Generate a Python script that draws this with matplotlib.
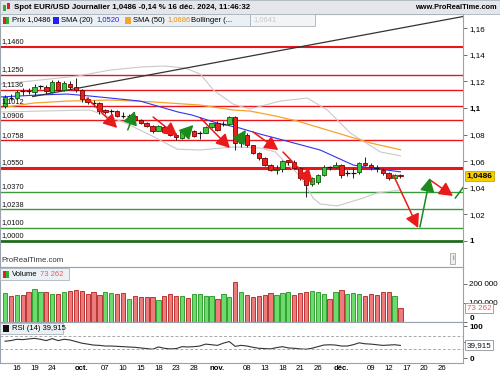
import matplotlib
matplotlib.use("Agg")
import matplotlib.pyplot as plt
import matplotlib.transforms as mtrans
from matplotlib.patches import Rectangle
import numpy as np

plt.rcParams['font.family'] = ['Liberation Sans', 'DejaVu Sans']

# ---- daily candles, 12 Sep -> 16 Dec 2024 (trading-day index) ----
opens = [1.1012, 1.1080, 1.1077, 1.1128, 1.1131, 1.1123, 1.1160, 1.1158, 1.1123, 1.1198,
         1.1135, 1.1180, 1.1160, 1.1135, 1.1067, 1.1045, 1.1037, 1.0985, 1.0972, 1.0975,
         1.0942, 1.0937, 1.0940, 1.0912, 1.0890, 1.0865, 1.0830, 1.0860, 1.0820, 1.0800,
         1.0778, 1.0812, 1.0825, 1.0808, 1.0815, 1.0857, 1.0887, 1.0878, 1.0880, 1.0932,
         1.0733, 1.0800, 1.0720, 1.0660, 1.0625, 1.0570, 1.0530, 1.0540, 1.0606, 1.0597,
         1.0545, 1.0473, 1.0425, 1.0445, 1.0496, 1.0556, 1.0555, 1.0571, 1.0505, 1.0512,
         1.0515, 1.0586, 1.0568, 1.0555, 1.0535, 1.0510, 1.0470, 1.0499]
highs = [1.1098, 1.1102, 1.1135, 1.1148, 1.1152, 1.1180, 1.1175, 1.1170, 1.1214, 1.1214,
         1.1202, 1.1200, 1.1225, 1.1145, 1.1085, 1.1060, 1.1045, 1.0990, 1.0990, 1.0985,
         1.0970, 1.0955, 1.0945, 1.0920, 1.0895, 1.0875, 1.0870, 1.0870, 1.0825, 1.0810,
         1.0835, 1.0840, 1.0835, 1.0830, 1.0865, 1.0890, 1.0905, 1.0905, 1.0937, 1.0937,
         1.0810, 1.0810, 1.0725, 1.0668, 1.0630, 1.0580, 1.0568, 1.0608, 1.0610, 1.0610,
         1.0555, 1.0480, 1.0480, 1.0500, 1.0570, 1.0565, 1.0595, 1.0580, 1.0530, 1.0545,
         1.0595, 1.0630, 1.0590, 1.0570, 1.0545, 1.0520, 1.0505, 1.0500]
lows = [1.1000, 1.1058, 1.1070, 1.1100, 1.1105, 1.1095, 1.1140, 1.1105, 1.1115, 1.1125,
        1.1128, 1.1145, 1.1120, 1.1045, 1.1030, 1.1005, 1.0952, 1.0955, 1.0957, 1.0935,
        1.0925, 1.0920, 1.0905, 1.0880, 1.0855, 1.0815, 1.0825, 1.0810, 1.0790, 1.0761,
        1.0770, 1.0800, 1.0785, 1.0770, 1.0810, 1.0850, 1.0830, 1.0862, 1.0870, 1.0683,
        1.0710, 1.0705, 1.0655, 1.0610, 1.0560, 1.0525, 1.0500, 1.0520, 1.0570, 1.0540,
        1.0460, 1.0332, 1.0410, 1.0425, 1.0485, 1.0535, 1.0545, 1.0470, 1.0490, 1.0475,
        1.0500, 1.0560, 1.0535, 1.0520, 1.0495, 1.0455, 1.0465, 1.0475]
closes = [1.1085, 1.1076, 1.1122, 1.1131, 1.1127, 1.1160, 1.1163, 1.1125, 1.1195, 1.1135,
          1.1188, 1.1160, 1.1135, 1.1067, 1.1045, 1.1040, 1.0976, 1.0968, 1.0975, 1.0942,
          1.0937, 1.0940, 1.0912, 1.0890, 1.0862, 1.0830, 1.0865, 1.0820, 1.0800, 1.0780,
          1.0825, 1.0826, 1.0792, 1.0812, 1.0857, 1.0885, 1.0834, 1.0882, 1.0935, 1.0733,
          1.0805, 1.0718, 1.0660, 1.0625, 1.0570, 1.0530, 1.0541, 1.0598, 1.0594, 1.0545,
          1.0473, 1.0420, 1.0470, 1.0496, 1.0556, 1.0553, 1.0572, 1.0498, 1.0512, 1.0510,
          1.0586, 1.0570, 1.0556, 1.0548, 1.0510, 1.0470, 1.0499, 1.0486]

# volume (thousands) and bar colour, G = up, R = down
volumes = [151, 137, 142, 142, 156, 172, 156, 156, 147, 147,
           156, 165, 168, 163, 147, 156, 142, 156, 151, 147,
           151, 119, 137, 130, 130, 130, 116, 137, 147, 137,
           137, 125, 147, 147, 137, 137, 119, 147, 130, 212,
           156, 142, 130, 137, 142, 150, 142, 151, 156, 142,
           151, 156, 165, 156, 147, 121, 156, 168, 147, 151,
           147, 137, 147, 142, 156, 156, 139, 73.262]
vol_dir = "GRGRRGGRGRGRRRRRRGGRRGRRRRGRRRGRGGGGRGGRGRRRRRGGGRRRGGGRGRGGGRRRRRGR"

rsi = [53, 55, 59, 58, 60, 62, 59, 55, 61, 55, 59, 57, 52, 47, 44, 41, 40, 38, 38, 37,
       36, 35, 34, 32, 30, 28, 35, 31, 29, 30, 36, 35, 36, 38, 44, 42, 40, 47, 52, 37,
       40, 38, 34, 31, 30, 29, 33, 36, 32, 31, 29, 28, 31, 36, 41, 42, 41, 38, 38, 42,
       48, 45, 44, 42, 40, 41, 42, 39.915]

# indicator lines: (index, price)
sma20_x = [-0.85, 5.9, 10.5, 14.4, 17.8, 22.9, 29.3, 31.7, 35.9, 39.8, 43.2, 45.8, 53.4, 59, 61.9, 67]
sma20_y = [1.1083, 1.1098, 1.1105, 1.1090, 1.1075, 1.1052, 1.0970, 1.0947, 1.0887, 1.0849,
           1.0804, 1.0774, 1.0684, 1.0571, 1.0549, 1.0520]
sma50_x = [-0.85, 4.75, 10.5, 17.8, 24.6, 33.1, 38.6, 41.5, 45.8, 49.5, 56.3, 61.9, 67]
sma50_y = [1.1000, 1.1037, 1.1052, 1.1060, 1.1047, 1.1022, 1.0985, 1.0977, 1.0940, 1.0902,
           1.0812, 1.0737, 1.0686]
boll_up_x = [-0.85, 5.9, 12.2, 17.8, 22.9, 27.1, 30.5, 33.1, 35.3, 38.6, 41.5, 46.6, 51.2,
             54.6, 58.5, 63.6, 67]
boll_up_y = [1.1180, 1.1210, 1.1240, 1.1285, 1.1308, 1.1316, 1.1301, 1.1255, 1.1135, 1.1030,
             1.0992, 1.1052, 1.1075, 1.0985, 1.0812, 1.0669, 1.0641]
boll_lo_x = [-0.85, 14.4, 20.0, 24.6, 29.2, 33.1, 38.6, 43.2, 45.8, 47.1, 50.0, 52.2, 53.4,
             56.3, 60.7, 63.0, 67]
boll_lo_y = [1.0970, 1.0985, 1.0895, 1.0797, 1.0690, 1.0684, 1.0707, 1.0699, 1.0669, 1.0609,
             1.0489, 1.0323, 1.0278, 1.0263, 1.0323, 1.0361, 1.0383]

trend_x = [4.7, 77.6]
trend_y = [1.1086, 1.1688]

res_levels = [1.1460, 1.1250, 1.1136, 1.1012, 1.0906, 1.0758, 1.0550]
sup_levels = [1.0370, 1.0238, 1.0100, 1.0000]

red_arrows = [((13.9, 1.1075), (19.0, 1.0850)), ((25.1, 1.0932), (29.2, 1.0789)),
              ((33.1, 1.0925), (38.1, 1.0699)), ((42.0, 1.0820), (46.3, 1.0684)),
              ((47.1, 1.0669), (52.2, 1.0436)), ((65.8, 1.0496), (70.0, 1.0098)),
              ((72.0, 1.0459), (75.9, 1.0338))]
green_arrows = [((20.8, 1.0835), (22.0, 1.0977)), ((30.8, 1.0820), (31.9, 1.0872)),
                ((39.5, 1.0744), (40.8, 1.0835)), ((70.3, 1.0105), (72.0, 1.0474))]
green_line = ((76.3, 1.0323), (78.4, 1.0450))

tick_pos = [2, 5, 8, 13, 17, 20, 23, 26, 29, 32, 36, 41, 44, 47, 50, 53, 57, 62, 65, 68, 71, 74]
tick_lbl = ["16", "19", "24", "oct.", "07", "10", "15", "18", "23", "28", "nov.", "08", "13",
            "18", "21", "26", "déc.", "09", "12", "17", "20", "26"]

W, H = 500, 375
def fx(px):
    return px / W
def fy(py):
    return 1 - py / H

fig = plt.figure(figsize=(5, 3.75), dpi=100)
xr = (-0.85, 77.6)
ax = fig.add_axes([0, fy(267), fx(463), fy(14) - fy(267)])
axv = fig.add_axes([0, fy(322), fx(463), fy(267) - fy(322)], sharex=ax)
axr = fig.add_axes([0, fy(363), fx(463), fy(322) - fy(363)], sharex=ax)

edge = '#9aa3ab'
for a in (ax, axv, axr):
    a.set_xlim(*xr)
    for s in a.spines.values():
        s.set_color(edge)
        s.set_linewidth(0.8)
    a.yaxis.tick_right()
    a.tick_params(axis='y', direction='out', length=3, width=0.6, color='#555555',
                  labelsize=5.8, pad=1.5)
    a.tick_params(axis='x', length=0, labelbottom=False)

idx = np.arange(len(closes))
o, h, l, c = map(np.array, (opens, highs, lows, closes))

# ---- price panel ----
ax.set_ylim(0.9804, 1.1707)
ylab_tr = mtrans.blended_transform_factory(ax.transAxes, ax.transData)
for lv in res_levels:
    lw = 2.2 if lv == 1.0550 else (1.5 if lv == 1.1460 else 1.0)
    ax.axhline(lv, color='#e8151b', lw=lw, zorder=1)
for lv in sup_levels:
    if lv == 1.0:
        ax.axhline(lv, color='#1f6b1f', lw=2.0, zorder=1)
    else:
        ax.axhline(lv, color='#3a9a3a', lw=1.0, zorder=1)
for lv in res_levels + sup_levels:
    ax.text(0.004, lv + 0.0012, f"{lv:.4f}".replace('.', ','), transform=ylab_tr,
            fontsize=5.3, va='bottom', ha='left', color='#111111', zorder=6)

ax.plot(boll_up_x, boll_up_y, color='#c9c9c9', lw=0.8, zorder=2)
ax.plot(boll_lo_x, boll_lo_y, color='#c9c9c9', lw=0.8, zorder=2)
ax.plot(sma50_x, sma50_y, color='#f6a42a', lw=0.9, zorder=2)
ax.plot(sma20_x, sma20_y, color='#3333ee', lw=0.8, zorder=2)
ax.plot(trend_x, trend_y, color='#333333', lw=0.9, zorder=2)

# candles
ax.vlines(idx, l, h, color='#222222', lw=0.7, zorder=3)
doji = np.abs(c - o) < 0.0008
up = (c >= o) & ~doji
dn = (c < o) & ~doji
ax.bar(idx[up], (c - o)[up], bottom=o[up], width=0.75, color='#3dc43d',
       edgecolor='#0b5e0b', lw=0.6, zorder=4)
ax.bar(idx[dn], (o - c)[dn], bottom=c[dn], width=0.75, color='#e8231e',
       edgecolor='#7a0000', lw=0.6, zorder=4)
ax.hlines(c[doji], idx[doji] - 0.4, idx[doji] + 0.4, color='#111111', lw=0.9, zorder=4)

arrow_style = '-|>,head_length=0.75,head_width=0.4'
for (x0, y0), (x1, y1) in red_arrows:
    ax.annotate('', xy=(x1, y1), xytext=(x0, y0),
                arrowprops=dict(arrowstyle=arrow_style, color='#ea1a1a', lw=1.1,
                                shrinkA=0, shrinkB=0, mutation_scale=11), zorder=5)
for (x0, y0), (x1, y1) in green_arrows:
    ax.annotate('', xy=(x1, y1), xytext=(x0, y0),
                arrowprops=dict(arrowstyle=arrow_style, color='#1c8a1c', lw=1.1,
                                shrinkA=0, shrinkB=0, mutation_scale=11), zorder=5)
ax.plot([green_line[0][0], green_line[1][0]], [green_line[0][1], green_line[1][1]],
        color='#1c8a1c', lw=1.1, zorder=5, clip_on=True)

yt = [1.0, 1.02, 1.04, 1.06, 1.08, 1.1, 1.12, 1.14, 1.16]
ax.set_yticks(yt)
ax.set_yticklabels(["1", "1,02", "1,04", "1,06", "1,08", "1,1", "1,12", "1,14", "1,16"])
for t in ax.get_yticklabels():
    if t.get_text() in ("1", "1,1"):
        t.set_fontweight('bold')
ax.text(1.008, closes[-1], "1,0486", transform=ylab_tr, fontsize=6, fontweight='bold',
        va='center', ha='left', zorder=7, clip_on=False,
        bbox=dict(boxstyle='square,pad=0.18', fc='#f6cf00', ec='#c9a600', lw=0.6))
ax.text(0.004, 0.012, "ProRealTime.com", transform=ax.transAxes, fontsize=5.6,
        color='#333333', va='bottom')
ax.text(0.978, 0.02, "i", transform=ax.transAxes, fontsize=5, color='#666666',
        ha='center', va='bottom',
        bbox=dict(boxstyle='square,pad=0.25', fc='#eeeeee', ec='#999999', lw=0.5))

# ---- volume panel ----
vol = np.array(volumes) * 1000
vcol = ['#6bdc6b' if d == 'G' else '#ec7b7b' for d in vol_dir]
vedge = ['#1f951f' if d == 'G' else '#b32020' for d in vol_dir]
axv.bar(idx, vol, width=0.72, color=vcol, edgecolor=vedge, lw=0.6)
axv.set_ylim(0, 289000)
axv.set_yticks([0, 100000, 200000])
axv.set_yticklabels(["0", "100 000", "200 000"])
zero_lbl = axv.get_yticklabels()[0]
zero_lbl.set_fontweight('bold')
zero_lbl.set_va('bottom')
vtr = mtrans.blended_transform_factory(axv.transAxes, axv.transData)
axv.text(1.008, vol[-1], "73 262", transform=vtr, fontsize=5.8, color='#e06060',
         va='center', ha='left', zorder=7, clip_on=False,
         bbox=dict(boxstyle='square,pad=0.18', fc='white', ec='#8a9299', lw=0.6))

# ---- RSI panel ----
axr.plot(idx, rsi, color='#333333', lw=0.8)
for lv in (70, 30):
    axr.axhline(lv, color='#aaaaaa', lw=0.7, ls=(0, (3, 2)))
axr.set_ylim(-15, 113)
axr.set_yticks([0, 50, 100])
axr.set_yticklabels(["0", "50", "100"])
for t in axr.get_yticklabels():
    if t.get_text() in ("0", "100"):
        t.set_fontweight('bold')
rtr = mtrans.blended_transform_factory(axr.transAxes, axr.transData)
axr.text(1.008, rsi[-1], "39,915", transform=rtr, fontsize=5.8, color='#111111',
         va='center', ha='left', zorder=7, clip_on=False,
         bbox=dict(boxstyle='square,pad=0.18', fc='white', ec='#8a9299', lw=0.6))

axr.set_xticks(tick_pos)
axr.set_xticklabels(tick_lbl)
axr.tick_params(axis='x', labelbottom=True, labelsize=5.6, pad=1.5, length=0)
for t in axr.get_xticklabels():
    if t.get_text().endswith('.'):
        t.set_fontweight('bold')

# ---- header and legend boxes ----
fig.patches.append(Rectangle((0, fy(14)), 1, fy(0) - fy(14), transform=fig.transFigure,
                             fc='#e3e7eb', ec='#aab2ba', lw=0.6, zorder=0))
fig.patches.append(Rectangle((fx(3), fy(11)), fx(3), fy(5) - fy(11), transform=fig.transFigure,
                             fc='#2fb02f', ec='none'))
fig.patches.append(Rectangle((fx(7), fy(9)), fx(3), fy(3) - fy(9), transform=fig.transFigure,
                             fc='#e02020', ec='none'))
fig.text(fx(14), fy(7.5), "Spot EUR/USD Journalier 1,0486 -0,14 % 16 déc. 2024, 11:46:32",
         fontsize=5.7, fontweight='bold', va='center', ha='left')
fig.text(fx(497), fy(7.5), "www.ProRealTime.com", fontsize=5.3, fontweight='bold',
         va='center', ha='right')

def legend_box(x0, x1, y0, y1, fc='#ebf0f5'):
    fig.patches.append(Rectangle((fx(x0), fy(y1)), fx(x1 - x0), fy(y0) - fy(y1),
                                 transform=fig.transFigure, fc=fc, ec='#aab3bb', lw=0.6,
                                 zorder=5))

def swatch(x, y, col, col2=None):
    fig.patches.append(Rectangle((fx(x), fy(y + 3.5)), fx(6), fy(y - 3.5) - fy(y + 3.5),
                                 transform=fig.transFigure, fc=col, ec='none', zorder=6))
    if col2:
        fig.patches.append(Rectangle((fx(x + 3), fy(y + 3.5)), fx(3), fy(y - 3.5) - fy(y + 3.5),
                                     transform=fig.transFigure, fc=col2, ec='none', zorder=6))

lt = dict(fontsize=5.5, va='center', ha='left', zorder=7)
legend_box(250, 315, 14, 26, fc='#f2f4f6')
legend_box(0, 250, 14, 26)
yl = 20
swatch(3, yl, '#e02020', '#2fb02f')
fig.text(fx(12), fy(yl), "Prix 1,0486", **lt)
swatch(53, yl, '#2222ee')
fig.text(fx(61), fy(yl), "SMA (20)", **lt)
fig.text(fx(96), fy(yl), "1,0520", color='#2222ee', **lt)
swatch(125, yl, '#f6a42a')
fig.text(fx(133), fy(yl), "SMA (50)", **lt)
fig.text(fx(167), fy(yl), "1,0686", color='#f08c00', **lt)
fig.text(fx(191), fy(yl), "Bollinger (...", **lt)
fig.text(fx(253), fy(yl), "1,0641", color='#c8c8c8', **lt)

legend_box(0, 69, 268, 280)
swatch(3, 274, '#e02020', '#2fb02f')
fig.text(fx(12), fy(274), "Volume", **lt)
fig.text(fx(40), fy(274), "73 262", color='#e06060', **lt)

legend_box(0, 63, 323, 334)
swatch(3, 328.5, '#111111')
fig.text(fx(12), fy(328.5), "RSI (14) 39,915", **lt)

fig.savefig("out.png", dpi=100)
